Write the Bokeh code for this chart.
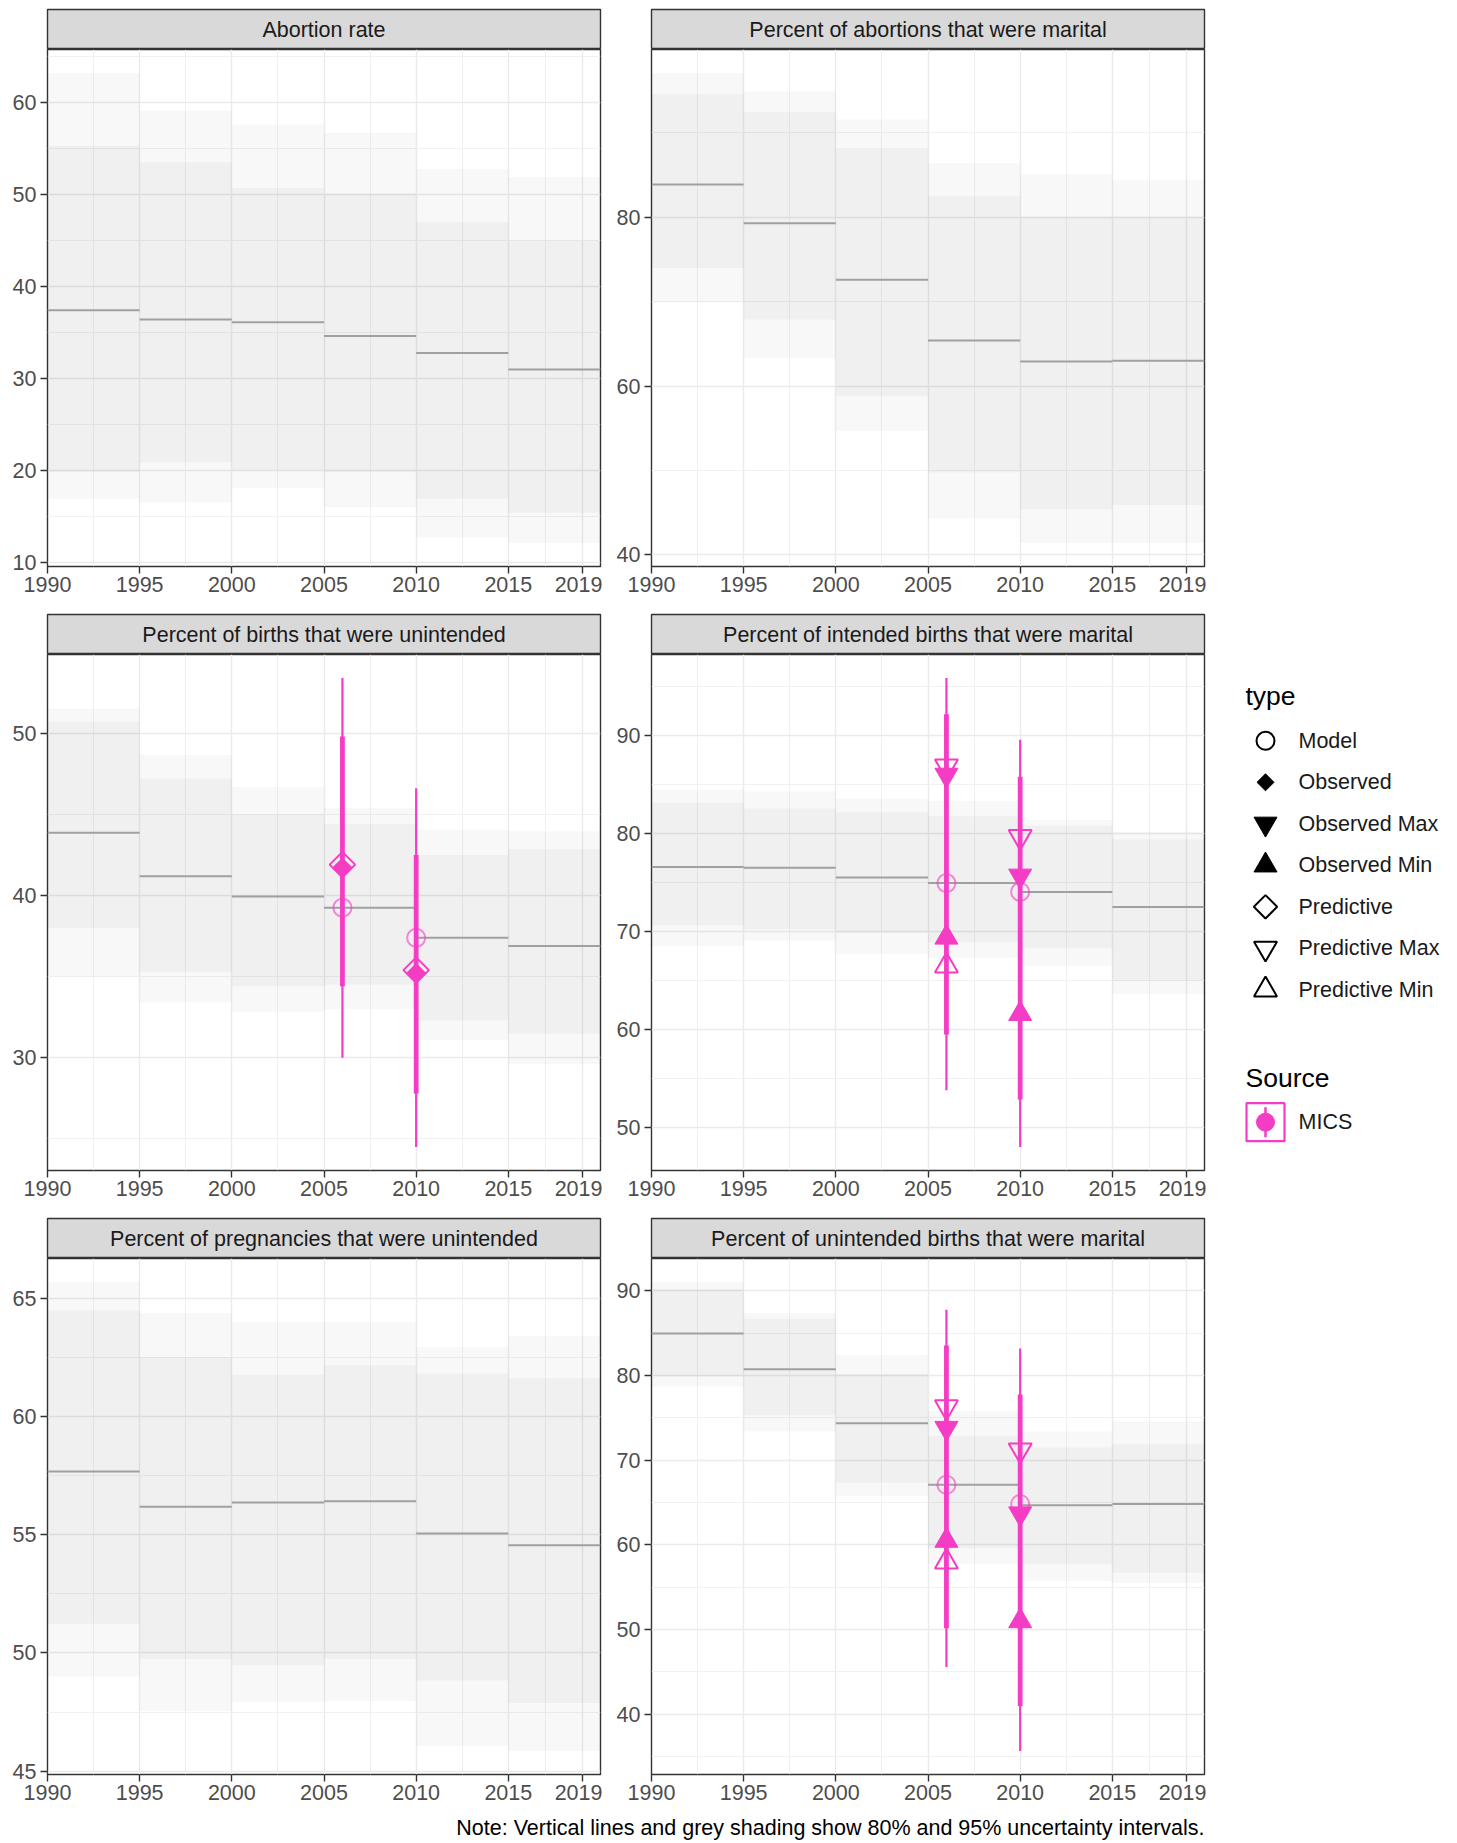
from bokeh.plotting import figure
from bokeh.models import Range1d, FixedTicker
from bokeh.layouts import row, column
from bokeh.embed import file_html
from bokeh.resources import INLINE
from bokeh.core.properties import value
import math

# ---------------- data ----------------
STEP_START = [1990, 1995, 2000, 2005, 2010, 2015]
STEP_END = [1995, 2000, 2005, 2010, 2015, 2020]
X_TICKS = [1990, 1995, 2000, 2005, 2010, 2015, 2019]
X_MINOR = [1992.5, 1997.5, 2002.5, 2007.5, 2012.5, 2017]

TITLES = [
    "Abortion rate",
    "Percent of abortions that were marital",
    "Percent of births that were unintended",
    "Percent of intended births that were marital",
    "Percent of pregnancies that were unintended",
    "Percent of unintended births that were marital",
]

Y_TICKS = [
    [10, 20, 30, 40, 50, 60],
    [40, 60, 80],
    [30, 40, 50],
    [50, 60, 70, 80, 90],
    [45, 50, 55, 60, 65],
    [40, 50, 60, 70, 80, 90],
]
Y_MINOR = [
    [15, 25, 35, 45, 55, 65],
    [50, 70, 90],
    [25, 35, 45, 55],
    [45, 55, 65, 75, 85, 95],
    [47.5, 52.5, 57.5, 62.5],
    [35, 45, 55, 65, 75, 85],
]

# model medians and intervals (per 5-year step)
abortion_rate_med = [37.4, 36.4, 36.1, 34.6, 32.75, 30.95]
abortion_rate_lo80 = [19.8, 20.85, 20.0, 19.8, 16.9, 15.4]
abortion_rate_hi80 = [55.3, 53.5, 50.7, 50.1, 47.0, 45.0]
abortion_rate_lo95 = [16.9, 16.5, 18.1, 16.0, 12.7, 12.1]
abortion_rate_hi95 = [63.2, 59.1, 57.6, 56.7, 52.8, 51.9]

abort_marital_med = [83.9, 79.3, 72.6, 65.4, 62.9, 63.0]
abort_marital_lo80 = [74.0, 67.9, 58.8, 49.75, 45.4, 45.9]
abort_marital_hi80 = [94.6, 92.45, 88.2, 82.5, 80.1, 80.1]
abort_marital_lo95 = [69.9, 63.3, 54.7, 44.3, 41.4, 41.4]
abort_marital_hi95 = [97.1, 94.9, 91.6, 86.4, 85.1, 84.4]

births_unint_med = [43.86, 41.18, 39.93, 39.25, 37.39, 36.89]
births_unint_lo80 = [38.0, 35.3, 34.4, 34.5, 32.3, 31.5]
births_unint_hi80 = [50.7, 47.2, 45.0, 44.4, 42.5, 42.85]
births_unint_lo95 = [35.0, 33.4, 32.8, 33.0, 31.1, 29.6]
births_unint_hi95 = [51.5, 48.66, 46.7, 45.4, 44.07, 43.95]

int_marital_med = [76.59, 76.51, 75.53, 74.95, 74.05, 72.52]
int_marital_lo80 = [70.64, 70.25, 69.86, 68.9, 68.3, 64.98]
int_marital_hi80 = [83.16, 82.57, 82.18, 81.79, 80.8, 79.44]
int_marital_lo95 = [68.5, 69.1, 67.7, 67.3, 66.5, 63.6]
int_marital_hi95 = [84.5, 84.33, 83.55, 83.35, 81.4, 80.2]

preg_unint_med = [57.68, 56.19, 56.37, 56.42, 55.06, 54.56]
preg_unint_lo80 = [51.24, 49.74, 49.48, 49.74, 48.84, 47.88]
preg_unint_hi80 = [64.49, 62.52, 61.77, 62.18, 61.83, 61.62]
preg_unint_lo95 = [49.0, 47.53, 47.93, 47.96, 46.05, 45.85]
preg_unint_hi95 = [65.7, 64.39, 64.0, 64.0, 62.96, 63.4]

unint_marital_med = [84.97, 80.76, 74.37, 67.1, 64.68, 64.83]
unint_marital_lo80 = [79.9, 75.3, 67.35, 59.6, 57.7, 56.7]
unint_marital_hi80 = [90.2, 86.7, 80.2, 72.9, 71.5, 71.9]
unint_marital_lo95 = [78.7, 73.4, 65.8, 57.7, 55.7, 55.5]
unint_marital_hi95 = [91.06, 87.4, 82.45, 75.8, 73.4, 74.6]

# MICS survey observations
MICS_YEARS = [2006, 2010]

births_unint_obs = [41.7, 35.2]
births_unint_pred = [41.9, 35.4]
births_unint_model = [39.25, 37.39]
births_unint_obs_lo80 = [34.4, 27.8]
births_unint_obs_hi80 = [49.8, 42.5]
births_unint_obs_lo95 = [30.0, 24.5]
births_unint_obs_hi95 = [53.4, 46.6]

int_marital_obs_max = [86.0, 75.7]
int_marital_obs_min = [69.4, 61.6]
int_marital_pred_max = [86.9, 79.7]
int_marital_pred_min = [66.5, None]
int_marital_model = [74.95, 74.05]
int_marital_obs_lo80 = [59.5, 52.85]
int_marital_obs_hi80 = [92.2, 85.8]
int_marital_obs_lo95 = [53.8, 48.0]
int_marital_obs_hi95 = [95.9, 89.6]

unint_marital_obs_max = [73.8, 63.7]
unint_marital_obs_min = [60.5, 51.0]
unint_marital_pred_max = [76.3, 71.2]
unint_marital_pred_min = [58.0, None]
unint_marital_model = [67.1, 64.83]
unint_marital_obs_lo80 = [50.16, 40.97]
unint_marital_obs_hi80 = [83.56, 77.75]
unint_marital_obs_lo95 = [45.57, 35.64]
unint_marital_obs_hi95 = [87.77, 83.2]

TYPE_LABELS = ["Model", "Observed", "Observed Max", "Observed Min",
               "Predictive", "Predictive Max", "Predictive Min"]
SOURCE_LABELS = ["MICS"]
NOTE = "Note: Vertical lines and grey shading show 80% and 95% uncertainty intervals."

BANDS = [
    (abortion_rate_med, abortion_rate_lo80, abortion_rate_hi80, abortion_rate_lo95, abortion_rate_hi95),
    (abort_marital_med, abort_marital_lo80, abort_marital_hi80, abort_marital_lo95, abort_marital_hi95),
    (births_unint_med, births_unint_lo80, births_unint_hi80, births_unint_lo95, births_unint_hi95),
    (int_marital_med, int_marital_lo80, int_marital_hi80, int_marital_lo95, int_marital_hi95),
    (preg_unint_med, preg_unint_lo80, preg_unint_hi80, preg_unint_lo95, preg_unint_hi95),
    (unint_marital_med, unint_marital_lo80, unint_marital_hi80, unint_marital_lo95, unint_marital_hi95),
]

OBS = {
    2: dict(model=births_unint_model, obs=births_unint_obs, pred=births_unint_pred,
            lo80=births_unint_obs_lo80, hi80=births_unint_obs_hi80,
            lo95=births_unint_obs_lo95, hi95=births_unint_obs_hi95),
    3: dict(model=int_marital_model, obs_max=int_marital_obs_max, obs_min=int_marital_obs_min,
            pred_max=int_marital_pred_max, pred_min=int_marital_pred_min,
            lo80=int_marital_obs_lo80, hi80=int_marital_obs_hi80,
            lo95=int_marital_obs_lo95, hi95=int_marital_obs_hi95),
    5: dict(model=unint_marital_model, obs_max=unint_marital_obs_max, obs_min=unint_marital_obs_min,
            pred_max=unint_marital_pred_max, pred_min=unint_marital_pred_min,
            lo80=unint_marital_obs_lo80, hi80=unint_marital_obs_hi80,
            lo95=unint_marital_obs_lo95, hi95=unint_marital_obs_hi95),
}

# ---------------- style ----------------
FONT = "Liberation Sans"
PINK = "#F43DC4"
FRAME_W = 553
STRIP_H = 40
BASE_FS = "21.5px"
PAGE_OFF = 8   # offset of the whole chart from the window's top-left corner

# marker specs: (marker, angle, size, filled)
MARK = {
    "model": ("circle", 0.0, 18, False),
    "obs": ("square", math.pi / 4, 14, True),
    "obs_max": ("inverted_triangle", 0.0, 23, True),
    "obs_min": ("triangle", 0.0, 23, True),
    "pred": ("square", math.pi / 4, 18, False),
    "pred_max": ("inverted_triangle", 0.0, 23, False),
    "pred_min": ("triangle", 0.0, 23, False),
}
LEGEND_SIZE = {"obs": 12, "pred": 16.5}
TYPE_KEYS = ["model", "obs", "obs_max", "obs_min", "pred", "pred_max", "pred_min"]


def draw_marker(p, key, xs, ys, color, alpha=1.0, size=None):
    pts = [(x, y) for x, y in zip(xs, ys) if y is not None]
    if not pts:
        return
    marker, ang, msize, filled = MARK[key]
    p.scatter([a for a, _ in pts], [b for _, b in pts], marker=marker, angle=ang,
              size=size if size is not None else msize,
              fill_color=color if filled else None, line_color=color,
              line_width=2 if not filled else 1, line_alpha=alpha, fill_alpha=alpha)


def make_strip(title, left_border, right_border, top_border):
    s = figure(frame_width=FRAME_W, frame_height=STRIP_H, min_border_left=left_border,
               min_border_right=right_border, min_border_top=top_border, min_border_bottom=0,
               x_range=Range1d(0, 1), y_range=Range1d(0, 1),
               x_axis_location=None, y_axis_location=None,
               toolbar_location=None, output_backend="svg")
    s.grid.visible = False
    s.background_fill_color = "#D9D9D9"
    s.outline_line_color = "#333333"
    s.outline_line_width = 1.4
    s.text(x=[0.5], y=[0.5], text=[title], text_align="center", text_baseline="middle",
           text_font=value(FONT), text_font_size=BASE_FS, text_color="#1A1A1A")
    return s


def make_panel(i, left_border, right_border, bottom_border, frame_h):
    med, lo80, hi80, lo95, hi95 = BANDS[i]
    vals = list(lo95) + list(hi95)
    if i in OBS:
        vals += [v for v in OBS[i]["lo95"] + OBS[i]["hi95"] if v is not None]
    lo, hi = min(vals), max(vals)
    pad = 0.05 * (hi - lo)
    p = figure(frame_width=FRAME_W, frame_height=frame_h, min_border_left=left_border,
               min_border_right=right_border, min_border_top=0, min_border_bottom=bottom_border,
               x_range=Range1d(1990, 2020), y_range=Range1d(lo - pad, hi + pad),
               toolbar_location=None, output_backend="svg")
    p.outline_line_color = "#333333"
    p.outline_line_width = 1.4
    p.xaxis.ticker = FixedTicker(ticks=X_TICKS, minor_ticks=X_MINOR)
    p.yaxis.ticker = FixedTicker(ticks=Y_TICKS[i], minor_ticks=Y_MINOR[i])
    for ax in (p.xaxis[0], p.yaxis[0]):
        ax.axis_line_color = None
        ax.major_tick_out = 7
        ax.major_tick_in = 0
        ax.minor_tick_out = 0
        ax.minor_tick_in = 0
        ax.major_tick_line_color = "#333333"
        ax.major_tick_line_width = 1.4
        ax.major_label_text_color = "#4D4D4D"
        ax.major_label_text_font = FONT
        ax.major_label_text_font_size = BASE_FS
    p.xaxis.major_label_standoff = 3
    p.yaxis.major_label_standoff = 4
    for g in (p.xgrid[0], p.ygrid[0]):
        g.grid_line_color = "#EBEBEB"
        g.grid_line_width = 1.4
        g.minor_grid_line_color = "#EEEEEE"
        g.minor_grid_line_width = 0.8

    p.quad(left=STEP_START, right=STEP_END, bottom=lo95, top=hi95,
           fill_color="black", fill_alpha=0.027, line_color=None)
    p.quad(left=STEP_START, right=STEP_END, bottom=lo80, top=hi80,
           fill_color="black", fill_alpha=0.032, line_color=None)
    p.segment(x0=STEP_START, y0=med, x1=STEP_END, y1=med, line_color="#A0A0A0", line_width=2)

    if i in OBS:
        d = OBS[i]
        p.segment(x0=MICS_YEARS, y0=d["lo95"], x1=MICS_YEARS, y1=d["hi95"],
                  line_color=PINK, line_width=2.2)
        p.segment(x0=MICS_YEARS, y0=d["lo80"], x1=MICS_YEARS, y1=d["hi80"],
                  line_color=PINK, line_width=4.8)
        draw_marker(p, "model", MICS_YEARS, d["model"], PINK, alpha=0.6)
        for key in ["obs", "obs_max", "obs_min", "pred", "pred_max", "pred_min"]:
            if key in d:
                draw_marker(p, key, MICS_YEARS, d[key], PINK)
    return p


ROW_FRAME_H = [517, 516, 516]
ROW_BOTTOM = [47, 47, 36]
ROW_TOP = [1 + PAGE_OFF, 1, 1]
COL_LEFT = [39 + PAGE_OFF, 49]
COL_RIGHT = [2, 2]

cols = []
for c in range(2):
    kids = []
    for r in range(3):
        i = r * 2 + c
        kids.append(make_strip(TITLES[i], COL_LEFT[c], COL_RIGHT[c], ROW_TOP[r]))
        kids.append(make_panel(i, COL_LEFT[c], COL_RIGHT[c], ROW_BOTTOM[r], ROW_FRAME_H[r]))
    cols.append(column(*kids))

TOTAL_H = sum(t + STRIP_H + fh + b for t, fh, b in zip(ROW_TOP, ROW_FRAME_H, ROW_BOTTOM))
LEG_W = 243
leg = figure(width=LEG_W, height=TOTAL_H, x_range=Range1d(0, LEG_W), y_range=Range1d(TOTAL_H, 0),
             min_border=0, x_axis_location=None, y_axis_location=None,
             toolbar_location=None, output_backend="svg")
leg.grid.visible = False
leg.outline_line_color = None

LEG_X0 = 39
LEG_SYM_X = 59
LEG_LAB_X = 92
TYPE_TITLE_Y = 695
TYPE_ITEM_Y0 = 740.3
TYPE_ITEM_DY = 41.5
SRC_TITLE_Y = 1077
SRC_ITEM_Y = 1121.7

leg.text(x=[LEG_X0], y=[TYPE_TITLE_Y], text=["type"], text_align="left", text_baseline="middle",
         text_font=value(FONT), text_font_size="26.5px", text_color="black")
for k, (key, lab) in enumerate(zip(TYPE_KEYS, TYPE_LABELS)):
    yy = TYPE_ITEM_Y0 + k * TYPE_ITEM_DY
    draw_marker(leg, key, [LEG_SYM_X], [yy], "black", size=LEGEND_SIZE.get(key))
    leg.text(x=[LEG_LAB_X], y=[yy], text=[lab], text_align="left", text_baseline="middle",
             text_font=value(FONT), text_font_size=BASE_FS, text_color="#1A1A1A")

leg.text(x=[LEG_X0], y=[SRC_TITLE_Y], text=["Source"], text_align="left", text_baseline="middle",
         text_font=value(FONT), text_font_size="26.5px", text_color="black")
leg.rect(x=[LEG_SYM_X], y=[SRC_ITEM_Y], width=38, height=38, fill_color=None,
         line_color=PINK, line_width=2.2)
leg.segment(x0=[LEG_SYM_X], y0=[SRC_ITEM_Y - 15], x1=[LEG_SYM_X], y1=[SRC_ITEM_Y + 15],
            line_color=PINK, line_width=2.5)
leg.scatter([LEG_SYM_X], [SRC_ITEM_Y], marker="circle", size=18, fill_color=PINK, line_color=PINK)
leg.text(x=[LEG_LAB_X], y=[SRC_ITEM_Y], text=SOURCE_LABELS, text_align="left", text_baseline="middle",
         text_font=value(FONT), text_font_size=BASE_FS, text_color="#1A1A1A")

NOTE_W = COL_LEFT[0] + FRAME_W + COL_RIGHT[0] + COL_LEFT[1] + FRAME_W + COL_RIGHT[1]
NOTE_H = 31
note = figure(width=NOTE_W, height=NOTE_H, x_range=Range1d(0, NOTE_W), y_range=Range1d(NOTE_H, 0),
              min_border=0, x_axis_location=None, y_axis_location=None,
              toolbar_location=None, output_backend="svg")
note.grid.visible = False
note.outline_line_color = None
note.text(x=[NOTE_W - COL_RIGHT[1]], y=[17], text=[NOTE], text_align="right",
          text_baseline="middle", text_font=value(FONT), text_font_size=BASE_FS, text_color="black")

layout = column(row(cols[0], cols[1], leg), note)

with open("out.html", "w") as f:
    f.write(file_html(layout, INLINE, "MICS"))
